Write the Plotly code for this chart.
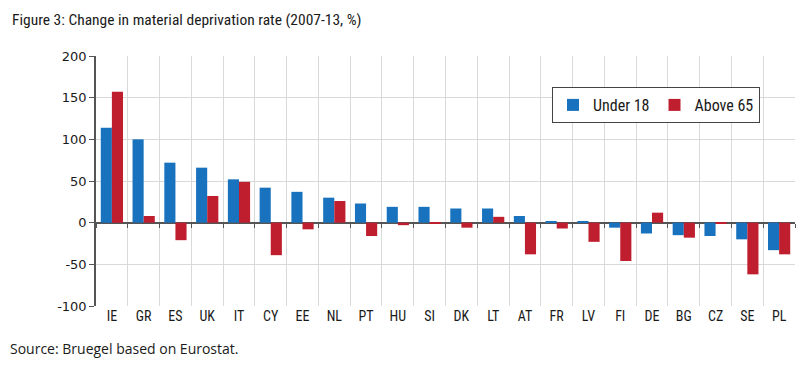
import plotly.graph_objects as go

countries = ["IE", "GR", "ES", "UK", "IT", "CY", "EE", "NL", "PT", "HU", "SI",
             "DK", "LT", "AT", "FR", "LV", "FI", "DE", "BG", "CZ", "SE", "PL"]
under_18 = [114, 100, 72, 66, 52, 42, 37, 30, 23, 19, 19,
            17, 17, 8, 2, 1, -6, -13, -15, -16, -20, -33]
above_65 = [157, 8, -21, 32, 49, -39, -8, 26, -16, -3, -1,
            -6, 7, -38, -7, -23, -46, 12, -18, -1, -62, -38]
series_names = ["Under 18", "Above 65"]
y_ticks = [-100, -50, 0, 50, 100, 150, 200]
y_tick_labels = ["-100", "-50", "0", "50", "100", "150", "200"]

BLUE = "#1872BD"
RED = "#BF1E2E"
GRID = "#D9D9D9"
AXIS = "#555555"
COND = "Roboto Condensed, Liberation Sans, sans-serif"

fig = go.Figure()
fig.add_trace(go.Bar(x=countries, y=under_18, name=series_names[0],
                     marker=dict(color=BLUE, line=dict(width=0))))
fig.add_trace(go.Bar(x=countries, y=above_65, name=series_names[1],
                     marker=dict(color=RED, line=dict(width=0))))
# invisible trace carrying the tick-mark axis drawn along the zero line
fig.add_trace(go.Scatter(x=[-0.5, len(countries) - 0.5], y=[0, 0], xaxis="x2",
                         mode="lines", line=dict(width=0), showlegend=False,
                         hoverinfo="skip"))

ymin, ymax = y_ticks[0], y_ticks[-1]
zero_pos = (0 - ymin) / (ymax - ymin)

fig.update_layout(
    width=811, height=369,
    margin=dict(l=96, r=16, t=56, b=63),
    paper_bgcolor="white", plot_bgcolor="white",
    barmode="group", bargap=0.3, bargroupgap=0,
    title=dict(text="Figure 3: Change in material deprivation rate (2007-13, %)",
               x=12 / 811, xanchor="left", xref="container",
               y=1 - 20 / 369, yanchor="middle", yref="container",
               font=dict(family=COND, size=15.5, color="#1a1a1a")),
    legend=dict(orientation="h", x=(552 - 96) / 699, y=1 - (87 - 56) / 250,
                xanchor="left", yanchor="top",
                bgcolor="white", bordercolor="#444444", borderwidth=1,
                font=dict(family=COND, size=16, color="#1a1a1a"),
                traceorder="normal"),
    xaxis=dict(type="category", tickson="boundaries", showgrid=True, gridcolor=GRID,
               gridwidth=1, ticks="", showline=False,
               tickfont=dict(family=COND, size=14, color="#1a1a1a"),
               range=[-0.5, len(countries) - 0.5]),
    xaxis2=dict(overlaying="x", anchor="free", position=zero_pos, side="bottom",
                range=[-0.5, len(countries) - 0.5], tick0=-0.5, dtick=1,
                ticks="outside", ticklen=4, tickcolor=AXIS, tickwidth=1,
                showticklabels=False, showgrid=False, showline=False, zeroline=False),
    yaxis=dict(range=[ymin, ymax], tickvals=y_ticks, ticktext=y_tick_labels,
               showgrid=True, gridcolor=GRID,
               gridwidth=1, zeroline=True, zerolinecolor=AXIS, zerolinewidth=1.5,
               showline=True, linecolor=AXIS, linewidth=1.5,
               ticks="outside", ticklen=5, tickcolor=AXIS,
               tickfont=dict(family="DejaVu Sans, Verdana, sans-serif", size=13, color="#1a1a1a")),
    annotations=[dict(text="Source: Bruegel based on Eurostat.", xref="paper", yref="paper",
                      x=-88 / 699, y=-(348 - 306) / 250, xanchor="left", yanchor="middle",
                      showarrow=False,
                      font=dict(family="Open Sans, sans-serif", size=14, color="#1a1a1a"))],
)

fig.write_html("out.html", config={"displayModeBar": False},
               post_script="document.body.style.margin='0';")
